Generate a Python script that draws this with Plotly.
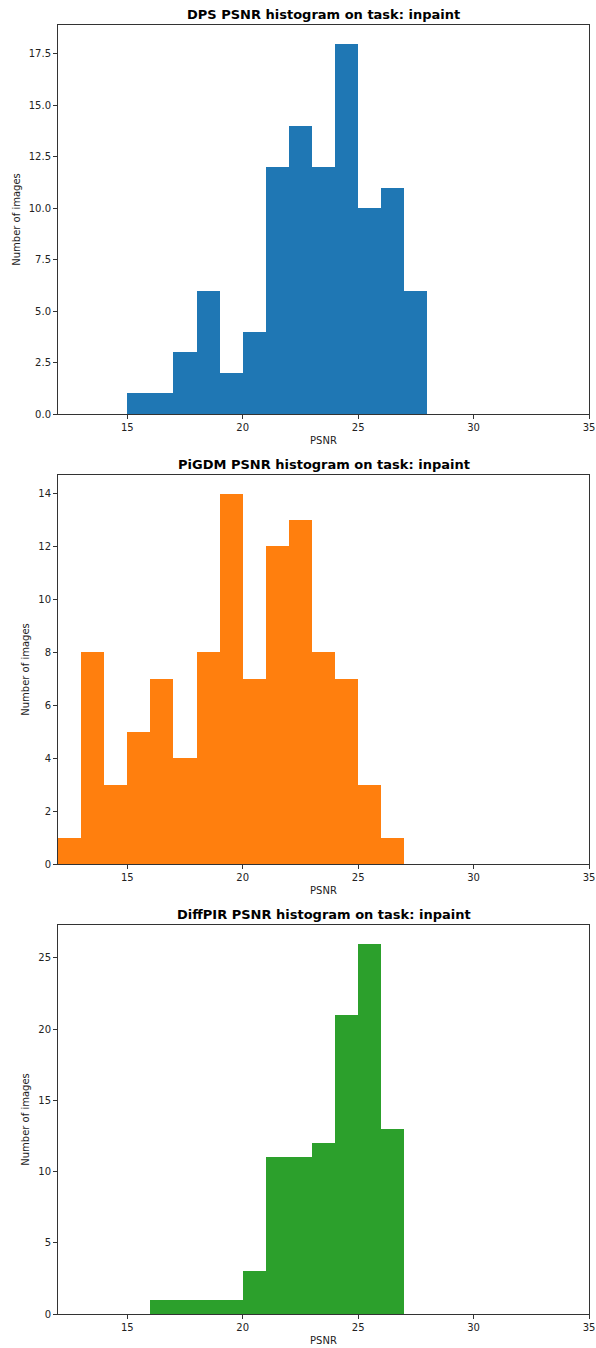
import plotly.graph_objects as go

# Histogram data (bin width 1)
dps_bin_left = [15, 16, 17, 18, 19, 20, 21, 22, 23, 24, 25, 26, 27]
dps_counts = [1, 1, 3, 6, 2, 4, 12, 14, 12, 18, 10, 11, 6]

pigdm_bin_left = [12, 13, 14, 15, 16, 17, 18, 19, 20, 21, 22, 23, 24, 25, 26]
pigdm_counts = [1, 8, 3, 5, 7, 4, 8, 14, 7, 12, 13, 8, 7, 3, 1]

diffpir_bin_left = [16, 17, 18, 19, 20, 21, 22, 23, 24, 25, 26]
diffpir_counts = [1, 1, 1, 1, 3, 11, 11, 12, 21, 26, 13]

titles = ["DPS PSNR histogram on task: inpaint",
          "PiGDM PSNR histogram on task: inpaint",
          "DiffPIR PSNR histogram on task: inpaint"]
colors = ["#1f77b4", "#ff7f0e", "#2ca02c"]
bin_width = 1

series = [(dps_bin_left, dps_counts), (pigdm_bin_left, pigdm_counts), (diffpir_bin_left, diffpir_counts)]

W, H = 596, 1348
ml, mr, mt, mb = 58, 7, 25, 34
plot_h = H - mt - mb
tops_px = [25, 475, 925]
box_h = 389

fig = go.Figure()
layout = {}
annotations = []
ytick_specs = [
    (list(x * 2.5 for x in range(8)), "%.1f"),
    (list(range(0, 15, 2)), "%d"),
    (list(range(0, 26, 5)), "%d"),
]
for i, ((lefts, counts), color) in enumerate(zip(series, colors)):
    xa = "x" if i == 0 else f"x{i+1}"
    ya = "y" if i == 0 else f"y{i+1}"
    fig.add_trace(go.Bar(
        x=lefts, y=counts, width=bin_width, offset=0,
        marker=dict(color=color, line=dict(width=0)),
        xaxis=xa, yaxis=ya, showlegend=False,
    ))
    top = tops_px[i]
    bot = top + box_h
    d0 = (H - mb - bot) / plot_h
    d1 = (H - mb - top) / plot_h
    ymax = max(counts) * 1.05
    tv, fmt = ytick_specs[i]
    axis_common = dict(
        showline=True, linecolor="#333333", linewidth=1, mirror=True,
        ticks="outside", ticklen=4, tickwidth=1, tickcolor="#333333",
        showgrid=False, zeroline=False, automargin=False,
        tickfont=dict(family="DejaVu Sans", size=10, color="#222222"),
        title_font=dict(family="DejaVu Sans", size=10, color="#222222"),
    )
    layout["xaxis" if i == 0 else f"xaxis{i+1}"] = dict(
        axis_common, domain=[0, 1], range=[12, 35], anchor=ya,
        tickvals=[15, 20, 25, 30, 35], title=dict(text="PSNR", standoff=4),
    )
    layout["yaxis" if i == 0 else f"yaxis{i+1}"] = dict(
        axis_common, domain=[d0, d1], range=[0, ymax], anchor=xa,
        tickvals=tv, ticktext=[fmt % v for v in tv],
        title=dict(text="Number of images", standoff=6),
    )
    annotations.append(dict(
        text=f"<b>{titles[i]}</b>", xref="paper", yref="paper",
        x=0.5, y=d1, yshift=1, xanchor="center", yanchor="bottom", showarrow=False,
        font=dict(family="DejaVu Sans", size=13, color="black"),
    ))

fig.update_layout(
    width=W, height=H,
    margin=dict(l=ml, r=mr, t=mt, b=mb),
    paper_bgcolor="white", plot_bgcolor="white",
    bargap=0, annotations=annotations,
    **layout,
)
fig.write_html("out.html")
